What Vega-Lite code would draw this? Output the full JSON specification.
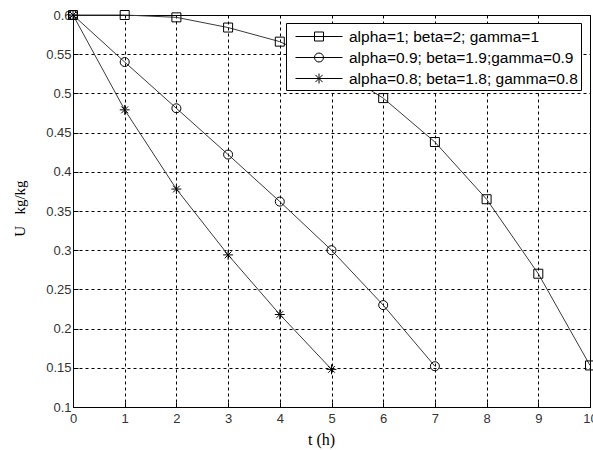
{
  "$schema": "https://vega.github.io/schema/vega-lite/v6.json",
  "width": 517,
  "height": 392,
  "autosize": "none",
  "padding": {"left": 73, "top": 15, "right": 3, "bottom": 43},
  "background": "white",
  "config": {"view": {"stroke": "black", "strokeWidth": 1}},
  "data": {
    "values": [
      {"series": "alpha=1; beta=2; gamma=1", "t": 0, "U": 0.6},
      {"series": "alpha=1; beta=2; gamma=1", "t": 1, "U": 0.6},
      {"series": "alpha=1; beta=2; gamma=1", "t": 2, "U": 0.597},
      {"series": "alpha=1; beta=2; gamma=1", "t": 3, "U": 0.584},
      {"series": "alpha=1; beta=2; gamma=1", "t": 4, "U": 0.566},
      {"series": "alpha=1; beta=2; gamma=1", "t": 5, "U": 0.535},
      {"series": "alpha=1; beta=2; gamma=1", "t": 6, "U": 0.494},
      {"series": "alpha=1; beta=2; gamma=1", "t": 7, "U": 0.438},
      {"series": "alpha=1; beta=2; gamma=1", "t": 8, "U": 0.365},
      {"series": "alpha=1; beta=2; gamma=1", "t": 9, "U": 0.27},
      {"series": "alpha=1; beta=2; gamma=1", "t": 10, "U": 0.153},
      {"series": "alpha=0.9; beta=1.9;gamma=0.9", "t": 0, "U": 0.6},
      {"series": "alpha=0.9; beta=1.9;gamma=0.9", "t": 1, "U": 0.54},
      {"series": "alpha=0.9; beta=1.9;gamma=0.9", "t": 2, "U": 0.481},
      {"series": "alpha=0.9; beta=1.9;gamma=0.9", "t": 3, "U": 0.422},
      {"series": "alpha=0.9; beta=1.9;gamma=0.9", "t": 4, "U": 0.362},
      {"series": "alpha=0.9; beta=1.9;gamma=0.9", "t": 5, "U": 0.3},
      {"series": "alpha=0.9; beta=1.9;gamma=0.9", "t": 6, "U": 0.23},
      {"series": "alpha=0.9; beta=1.9;gamma=0.9", "t": 7, "U": 0.152},
      {"series": "alpha=0.8; beta=1.8; gamma=0.8", "t": 0, "U": 0.6},
      {"series": "alpha=0.8; beta=1.8; gamma=0.8", "t": 1, "U": 0.479},
      {"series": "alpha=0.8; beta=1.8; gamma=0.8", "t": 2, "U": 0.378},
      {"series": "alpha=0.8; beta=1.8; gamma=0.8", "t": 3, "U": 0.294},
      {"series": "alpha=0.8; beta=1.8; gamma=0.8", "t": 4, "U": 0.218},
      {"series": "alpha=0.8; beta=1.8; gamma=0.8", "t": 5, "U": 0.148}
    ]
  },
  "encoding": {
    "x": {
      "field": "t",
      "type": "quantitative",
      "scale": {"domain": [0, 10], "nice": false, "zero": false},
      "axis": {
        "values": [0, 1, 2, 3, 4, 5, 6, 7, 8, 9, 10],
        "title": "t (h)",
        "titleFont": "Liberation Serif",
        "titleFontSize": 16,
        "titleFontWeight": "normal",
        "titleColor": "black",
        "titlePadding": 6,
        "titleX": 248,
        "labelFont": "Liberation Sans",
        "labelFontSize": 13,
        "labelColor": "#333",
        "labelFlush": false,
        "labelOverlap": false,
        "labelBound": false,
        "labelPadding": 10,
        "tickSize": -5,
        "tickColor": "black",
        "domainColor": "black",
        "grid": true,
        "gridColor": "black",
        "gridOpacity": 1,
        "gridDash": [3, 3],
        "gridWidth": 1
      }
    },
    "y": {
      "field": "U",
      "type": "quantitative",
      "scale": {"domain": [0.1, 0.6], "nice": false, "zero": false},
      "axis": {
        "values": [0.1, 0.15, 0.2, 0.25, 0.3, 0.35, 0.4, 0.45, 0.5, 0.55, 0.6],
        "format": ".2~f",
        "title": "U\u00a0\u00a0\u00a0kg/kg",
        "titleFont": "Liberation Serif",
        "titleFontSize": 15,
        "titleFontWeight": "normal",
        "titleColor": "black",
        "titlePadding": 18,
        "titleY": 193,
        "labelFont": "Liberation Sans",
        "labelFontSize": 13,
        "labelColor": "#333",
        "labelFlush": false,
        "labelOverlap": false,
        "labelBound": false,
        "labelPadding": 7,
        "tickSize": -5,
        "tickColor": "black",
        "domainColor": "black",
        "grid": true,
        "gridColor": "black",
        "gridOpacity": 1,
        "gridDash": [3, 3],
        "gridWidth": 1
      }
    }
  },
  "resolve": {"scale": {"shape": "independent"}, "legend": {"shape": "independent"}},
  "layer": [
    {
      "mark": {"type": "line", "color": "#3a3a3a", "strokeWidth": 1},
      "encoding": {"detail": {"field": "series", "type": "nominal"}}
    },
    {
      "mark": {"type": "point", "filled": false, "stroke": "black", "strokeWidth": 1, "opacity": 1, "size": 81},
      "encoding": {
        "shape": {
          "field": "series",
          "type": "nominal",
          "scale": {
            "domain": ["alpha=1; beta=2; gamma=1", "alpha=0.9; beta=1.9;gamma=0.9", "alpha=0.8; beta=1.8; gamma=0.8"],
            "range": ["square", "circle", "M-1.1,0H1.1M0,-1.1V1.1M-0.75,-0.75L0.75,0.75M-0.75,0.75L0.75,-0.75"]
          },
          "legend": null
        }
      }
    },
    {
      "mark": {"type": "point", "filled": false, "stroke": "black", "strokeWidth": 1, "opacity": 0, "size": 400},
      "encoding": {
        "shape": {
          "field": "series",
          "type": "nominal",
          "scale": {
            "domain": ["alpha=1; beta=2; gamma=1", "alpha=0.9; beta=1.9;gamma=0.9", "alpha=0.8; beta=1.8; gamma=0.8"],
            "range": [
              "M-2.35,0H2.35M-0.45,-0.45H0.45V0.45H-0.45Z",
              "M-2.35,0H2.35M0.45,0A0.45,0.45 0 1,1 -0.45,0A0.45,0.45 0 1,1 0.45,0",
              "M-2.35,0H2.35M0,-0.5V0.5M-0.36,-0.36L0.36,0.36M-0.36,0.36L0.36,-0.36"
            ]
          },
          "legend": {
            "title": null,
            "orient": "none",
            "legendX": 213,
            "legendY": 8,
            "fillColor": "white",
            "strokeColor": "black",
            "padding": 3,
            "symbolSize": 400,
            "symbolOpacity": 1,
            "rowPadding": 2,
            "symbolOffset": 19.5,
            "labelOffset": 19.5,
            "labelFont": "Liberation Sans",
            "labelFontSize": 15.5,
            "labelColor": "black",
            "labelLimit": 400,
            "symbolStrokeColor": "black",
            "symbolStrokeWidth": 1,
            "symbolFillColor": "transparent"
          }
        }
      }
    }
  ]
}
